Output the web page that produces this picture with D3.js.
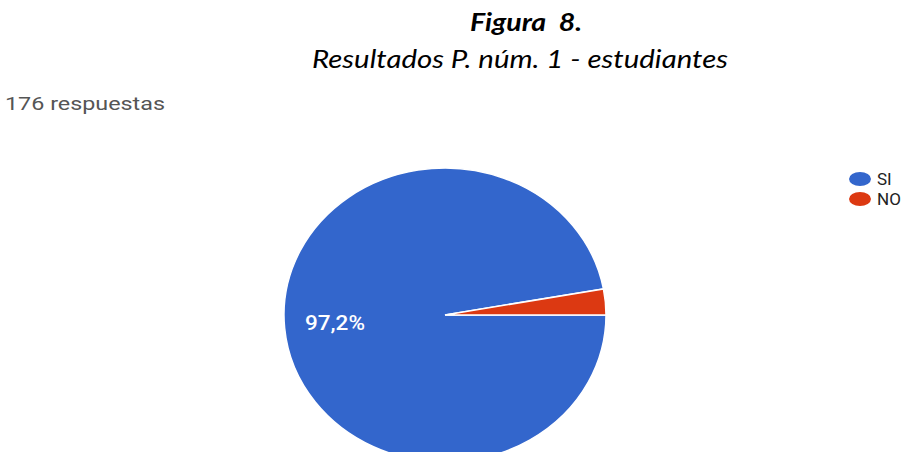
<!DOCTYPE html>
<html>
<head>
<meta charset="utf-8">
<script src="https://cdn.jsdelivr.net/npm/d3@7"></script>
<style>
  html, body { margin: 0; padding: 0; background: #ffffff; }
  svg { display: block; }
  text { white-space: pre; }
</style>
</head>
<body>
<svg id="chart" width="912" height="452"></svg>
<script>
// ---- data ----
const categories = ["SI", "NO"];
const values = [171, 5];
const colors = ["#3366cc", "#dc3912"];
const titleLines = ["Figura  8.", "Resultados P. núm. 1 - estudiantes"];
const responsesLabel = "176 respuestas";

const svg = d3.select("#chart");

// ---- titles ----
svg.append("text")
  .attr("x", 470).attr("y", 31)
  .attr("font-family", "Lato, 'Open Sans', sans-serif")
  .attr("font-style", "italic").attr("font-weight", "bold")
  .attr("font-size", 25)
  .attr("fill", "#000")
  .attr("textLength", 112).attr("lengthAdjust", "spacingAndGlyphs")
  .text(titleLines[0]);

svg.append("text")
  .attr("x", 312).attr("y", 68)
  .attr("font-family", "Lato, 'Open Sans', sans-serif")
  .attr("font-style", "italic")
  .attr("font-size", 25)
  .attr("fill", "#000")
  .attr("textLength", 416).attr("lengthAdjust", "spacingAndGlyphs")
  .text(titleLines[1]);

svg.append("text")
  .attr("x", 5).attr("y", 110)
  .attr("font-family", "Roboto, Arial, sans-serif")
  .attr("font-size", 18)
  .attr("fill", "#555")
  .attr("textLength", 160).attr("lengthAdjust", "spacingAndGlyphs")
  .text(responsesLabel);

// ---- pie ----
const total = d3.sum(values);
const cx = 445, cy = 315, rx = 161, ry = 147;
const color = d3.scaleOrdinal().domain(categories).range(colors);

const pie = d3.pie()
  .value(d => d.value)
  .sort(null)
  .startAngle(Math.PI / 2 - 2 * Math.PI)
  .endAngle(Math.PI / 2);

const data = categories.map((c, i) => ({ cat: c, value: values[i] }));
const arcs = pie(data);
const arc = d3.arc().innerRadius(0).outerRadius(rx);

const g = svg.append("g")
  .attr("transform", `translate(${cx},${cy}) scale(1,${ry / rx})`);

g.selectAll("path")
  .data(arcs)
  .join("path")
  .attr("d", arc)
  .attr("fill", d => color(d.data.cat))
  .attr("stroke", "#ffffff")
  .attr("stroke-width", 1.5)
  .attr("vector-effect", "non-scaling-stroke");

// percentage label for the large slice
const fmt = v => (v * 100).toFixed(1).replace(".", ",") + "%";
svg.append("text")
  .attr("x", 335).attr("y", 330)
  .attr("text-anchor", "middle")
  .attr("font-family", "Roboto, Arial, sans-serif")
  .attr("font-size", 20)
  .attr("font-weight", 500)
  .attr("fill", "#ffffff")
  .attr("textLength", 60).attr("lengthAdjust", "spacingAndGlyphs")
  .text(fmt(values[0] / total));

// ---- legend ----
const legend = svg.append("g");
const items = legend.selectAll("g")
  .data(categories)
  .join("g")
  .attr("transform", (d, i) => `translate(860, ${179 + i * 20})`);
items.append("ellipse")
  .attr("rx", 11).attr("ry", 7)
  .attr("fill", d => color(d));
items.append("text")
  .attr("x", 17).attr("y", 6)
  .attr("font-family", "Roboto, Arial, sans-serif")
  .attr("font-size", 17)
  .attr("fill", "#222")
  .text(d => d);
</script>
</body>
</html>
